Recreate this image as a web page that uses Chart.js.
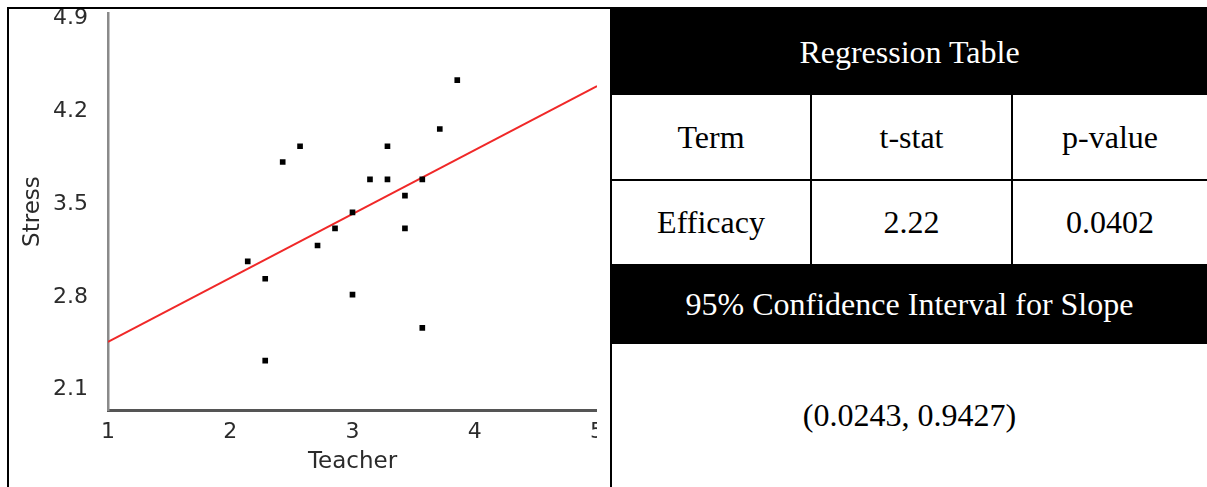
<!DOCTYPE html>
<html>
<head>
<meta charset="utf-8">
<script src="https://cdn.jsdelivr.net/npm/chart.js@4/dist/chart.umd.min.js"></script>
<style>
  html, body { margin:0; padding:0; background:#fff; }
  body { width:1207px; height:487px; position:relative; overflow:hidden; }
  .blk { position:absolute; background:#000; }
  .cell { position:absolute; display:flex; align-items:center; justify-content:center;
          font-family:'Liberation Serif','Times New Roman',serif; font-size:32px; color:#000; white-space:nowrap; }
  .hdr { color:#fff; }
  #clip { position:absolute; left:9px; top:9px; width:588px; height:478px; overflow:hidden; }
  #c { position:absolute; left:0; top:-29px; width:611px; height:507px; }
</style>
</head>
<body>
<!-- frame -->
<div class="blk" style="left:7px;top:7px;width:1200px;height:2px"></div>
<div class="blk" style="left:7px;top:7px;width:2px;height:480px"></div>
<div class="blk" style="left:610px;top:7px;width:2px;height:480px"></div>

<!-- chart -->
<div id="clip"><canvas id="c" width="611" height="507"></canvas></div>

<!-- table -->
<div class="blk" style="left:610px;top:7px;width:597px;height:88px"></div>
<div class="cell hdr" style="left:612px;top:9px;width:595px;height:86px">Regression Table</div>

<div class="cell" style="left:612px;top:95px;width:198px;height:84px">Term</div>
<div class="cell" style="left:812px;top:95px;width:199px;height:84px">t-stat</div>
<div class="cell" style="left:1013px;top:95px;width:194px;height:84px">p-value</div>

<div class="blk" style="left:612px;top:179px;width:595px;height:2px"></div>
<div class="blk" style="left:810px;top:95px;width:2px;height:169px"></div>
<div class="blk" style="left:1011px;top:95px;width:2px;height:169px"></div>

<div class="cell" style="left:612px;top:181px;width:198px;height:83px">Efficacy</div>
<div class="cell" style="left:812px;top:181px;width:199px;height:83px">2.22</div>
<div class="cell" style="left:1013px;top:181px;width:194px;height:83px">0.0402</div>

<div class="blk" style="left:610px;top:264px;width:597px;height:80px"></div>
<div class="cell hdr" style="left:612px;top:264px;width:595px;height:80px">95% Confidence Interval for Slope</div>

<div class="cell" style="left:612px;top:344px;width:595px;height:143px">(0.0243, 0.9427)</div>

<script>
// ---- data ----
const teacher = [3.857, 3.714, 2.571, 3.286, 2.429, 3.143, 3.286, 3.571, 3.429, 3.0, 2.857, 3.429, 2.714, 2.143, 2.286, 3.0, 3.571, 2.286];
const stress  = [4.435, 4.066, 3.936, 3.936, 3.817, 3.686, 3.686, 3.686, 3.564, 3.437, 3.316, 3.316, 3.187, 3.068, 2.936, 2.817, 2.566, 2.318];
const fitX = [1, 5];
const fitY = [2.46, 4.39];
const xTickValues = [1, 2, 3, 4, 5];
const xTickLabels = ['1', '2', '3', '4', '5'];
const yTickValues = [2.1, 2.8, 3.5, 4.2, 4.9];
const yTickLabels = ['2.1', '2.8', '3.5', '4.2', '4.9'];
const xTitle = 'Teacher';
const yTitle = 'Stress';

const pts = teacher.map((x, i) => ({ x: x, y: stress[i] }));
const line = fitX.map((x, i) => ({ x: x, y: fitY[i] }));

const tickFont = { family: "'DejaVu Sans', Verdana, sans-serif", size: 22 };
const titleFont = { family: "'DejaVu Sans', Verdana, sans-serif", size: 23 };

new Chart(document.getElementById('c'), {
  type: 'scatter',
  data: {
    datasets: [
      { data: pts, order: 0, pointStyle: 'rect', pointRadius: 4, pointHoverRadius: 4,
        backgroundColor: '#000', borderWidth: 0 },
      { data: line, order: 1, showLine: true, pointRadius: 0, borderColor: '#f02828',
        borderWidth: 2, fill: false }
    ]
  },
  options: {
    responsive: false,
    animation: false,
    devicePixelRatio: 1,
    layout: { padding: { left: 0, right: 23, top: 28, bottom: 0 } },
    plugins: { legend: { display: false }, tooltip: { enabled: false } },
    scales: {
      x: {
        type: 'linear', min: 1, max: 5,
        grid: { display: false, drawTicks: false },
        border: { display: true, color: '#555', width: 3 },
        afterBuildTicks: (s) => { s.ticks = xTickValues.map(v => ({ value: v })); },
        afterFit: (s) => { s.height = 77; },
        ticks: { padding: 9, color: '#2b2b2b', font: tickFont, maxRotation: 0,
                 callback: (v, i) => xTickLabels[i] },
        title: { display: true, text: xTitle, color: '#2b2b2b', font: titleFont, padding: { top: 0, bottom: 11 } }
      },
      y: {
        type: 'linear', min: 1.946, max: 4.94,
        grid: { display: false, drawTicks: false },
        border: { display: true, color: '#8a8a8a', width: 2.5 },
        afterBuildTicks: (s) => { s.ticks = yTickValues.map(v => ({ value: v })); },
        afterFit: (s) => { s.width = 99; },
        ticks: { padding: 20, color: '#2b2b2b', font: tickFont,
                 callback: (v, i) => yTickLabels[i] },
        title: { display: true, text: yTitle, color: '#2b2b2b', font: titleFont, padding: { top: 10, bottom: 0 } }
      }
    }
  }
});
</script>
</body>
</html>
